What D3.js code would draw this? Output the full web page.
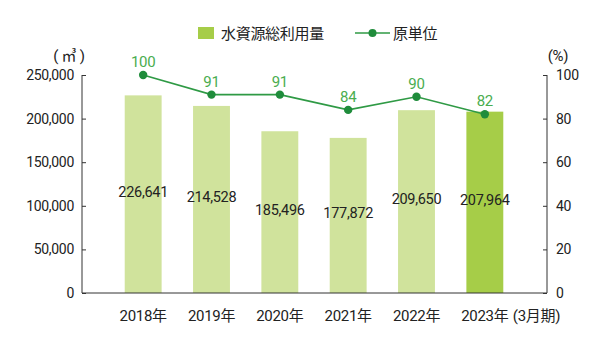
<!DOCTYPE html>
<html><head><meta charset="utf-8">
<script src="https://cdn.jsdelivr.net/npm/d3@7"></script>
<style>
body{margin:0;background:#fff;}
svg text{font-family:"Liberation Sans Narrow",Roboto,"Noto Sans CJK JP",sans-serif;letter-spacing:-0.3px;}
</style></head>
<body><svg id="c" width="600" height="345"></svg>
<script>
const categories = ["2018年","2019年","2020年","2021年","2022年","2023年"];
const waterUse = [226641,214528,185496,177872,209650,207964];
const unitRatio = [100,91,91,84,90,82];
const leftTicks = [0,50000,100000,150000,200000,250000];
const rightTicks = [0,20,40,60,80,100];

const svg = d3.select("#c");
const x = d3.scaleBand().domain(categories).range([109,519]).paddingInner(0.46).paddingOuter(0.23);
const yL = d3.scaleLinear().domain([0,250000]).range([293,75]);
const yR = d3.scaleLinear().domain([0,100]).range([293,75]);
const cx = d => x(d)+x.bandwidth()/2;
const fmt = d3.format(",");
const FS = 14;

// bars
svg.selectAll("rect.bar").data(categories).join("rect")
  .attr("x", d=>x(d)).attr("width", x.bandwidth())
  .attr("y", (d,i)=>yL(waterUse[i])).attr("height",(d,i)=>yL(0)-yL(waterUse[i]))
  .attr("fill",(d,i)=> i===categories.length-1 ? "#a6cd48" : "#d0e39c");

// bar labels
svg.selectAll("text.bl").data(categories).join("text")
  .attr("x", d=>cx(d)).attr("y",(d,i)=>(yL(waterUse[i])+yL(0))/2-2)
  .attr("text-anchor","middle").attr("dominant-baseline","central")
  .attr("font-size",14.5).attr("fill","#222")
  .text((d,i)=>fmt(waterUse[i]));

// axes
const axL = svg.append("g").attr("transform","translate(82,0)")
  .call(d3.axisLeft(yL).tickValues(leftTicks).tickSize(-4).tickPadding(8).tickFormat(fmt));
const axR = svg.append("g").attr("transform","translate(547,0)")
  .call(d3.axisRight(yR).tickValues(rightTicks).tickSize(-4).tickPadding(9));
[axL,axR].forEach(a=>{
  a.attr("font-family",null).attr("font-size",null);
  a.select(".domain").attr("stroke","#333").attr("d","M0,75V293");
  a.selectAll(".tick line").attr("stroke","#333");
  a.selectAll("text").attr("font-size",FS).attr("fill","#222");
});
svg.append("line").attr("x1",82).attr("x2",547).attr("y1",yL(0)).attr("y2",yL(0)).attr("stroke","#333");

// x labels
svg.selectAll("text.xl").data(categories).join("text")
  .attr("x", d=>cx(d)).attr("y",321).attr("text-anchor","middle")
  .attr("font-size",15).attr("fill","#222").text(d=>d);
svg.append("text").attr("x", cx(categories[5])+28).attr("y",321)
  .attr("font-size",15).attr("fill","#222").text("(3月期)");

// units
svg.append("text").attr("x",69).attr("y",61).attr("text-anchor","middle").attr("font-size",15).attr("fill","#222").text("( ㎥ )");
svg.append("text").attr("x",558).attr("y",61).attr("text-anchor","middle").attr("font-size",15).attr("fill","#222").text("(%)");

// line
const line = d3.line().x((d,i)=>cx(categories[i])).y(d=>yR(d));
svg.append("path").datum(unitRatio).attr("d",line).attr("fill","none").attr("stroke","#2f9a45").attr("stroke-width",1.6);
svg.selectAll("circle.pt").data(unitRatio).join("circle")
  .attr("cx",(d,i)=>cx(categories[i])).attr("cy",d=>yR(d)).attr("r",4.2).attr("fill","#1f8c3b");
svg.selectAll("text.pl").data(unitRatio).join("text")
  .attr("x",(d,i)=>cx(categories[i])).attr("y",d=>yR(d)-8)
  .attr("text-anchor","middle").attr("font-size",15).attr("fill","#4aad4f").text(d=>d);

// legend
svg.append("rect").attr("x",198).attr("y",27).attr("width",16).attr("height",12).attr("fill","#a6cd48");
svg.append("text").attr("x",221).attr("y",38.5).attr("font-size",15).attr("fill","#222").text("水資源総利用量");
svg.append("line").attr("x1",355).attr("x2",390).attr("y1",33).attr("y2",33).attr("stroke","#2f9a45").attr("stroke-width",1.6);
svg.append("circle").attr("cx",372.5).attr("cy",33).attr("r",4).attr("fill","#1f8c3b");
svg.append("text").attr("x",393).attr("y",38.5).attr("font-size",15).attr("fill","#222").text("原単位");
</script></body></html>
